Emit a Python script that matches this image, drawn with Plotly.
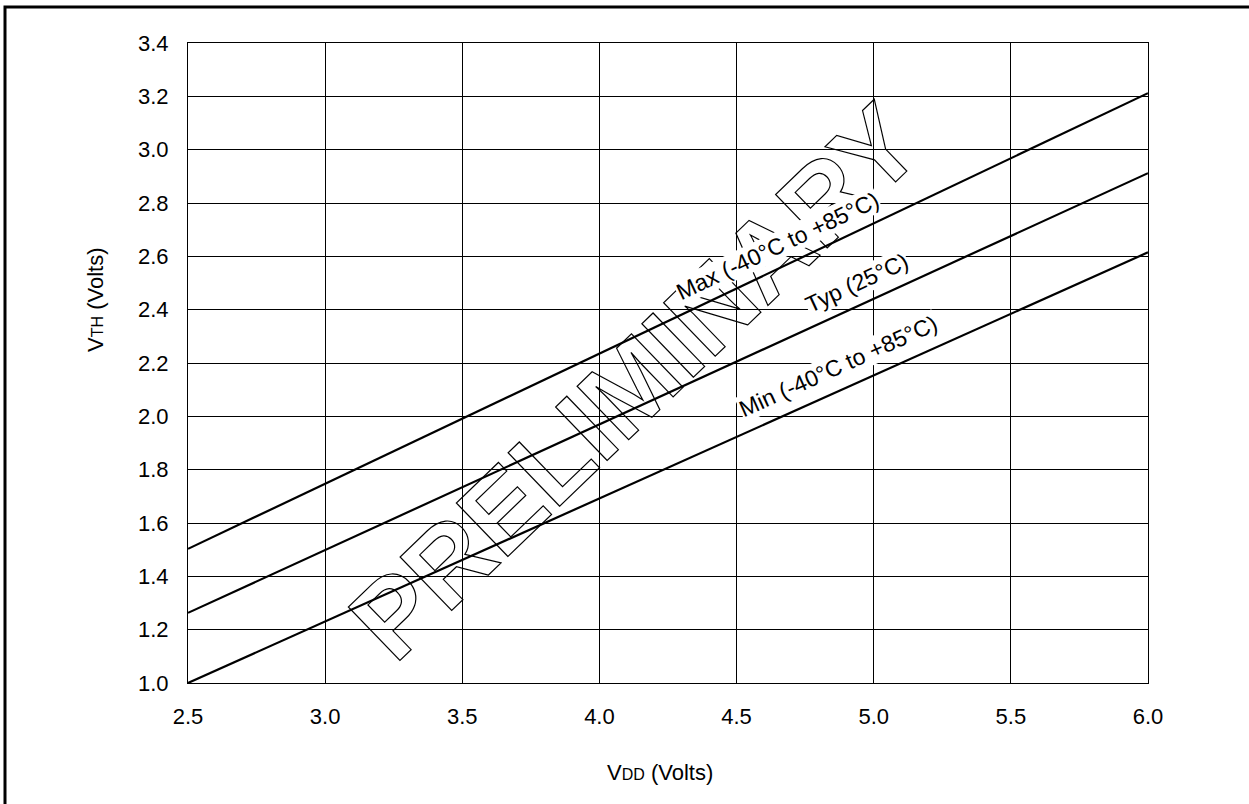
import plotly.graph_objects as go

# ---- data ----
vdd = [2.5, 6.0]
vth_max = [1.503, 3.212]
vth_typ = [1.263, 2.912]
vth_min = [1.0, 2.615]

x_ticks = [2.5, 3.0, 3.5, 4.0, 4.5, 5.0, 5.5, 6.0]
y_ticks = [1.0, 1.2, 1.4, 1.6, 1.8, 2.0, 2.2, 2.4, 2.6, 2.8, 3.0, 3.2, 3.4]

label_text = ["Max (-40°C to +85°C)", "Typ (25°C)", "Min (-40°C to +85°C)"]
label_x = [4.648, 4.938, 4.872]
label_y = [2.640, 2.499, 2.188]
label_angle = [-25.4, -24.8, -24.3]

FONT = "Liberation Sans, Arial, sans-serif"

fig = go.Figure()
for ys in (vth_max, vth_typ, vth_min):
    fig.add_trace(go.Scatter(x=vdd, y=ys, mode="lines",
                             line=dict(color="black", width=2.2),
                             showlegend=False, hoverinfo="skip"))

annotations = [
    dict(text="<b>PRELIMINARY</b>", x=4.13, y=2.13, xref="x", yref="y",
         showarrow=False, textangle=-44,
         font=dict(family=FONT, size=108, color="black")),
]
for t, x, y, a in zip(label_text, label_x, label_y, label_angle):
    annotations.append(dict(text=t, x=x, y=y, xref="x", yref="y",
                            showarrow=False, textangle=a, bgcolor="white",
                            borderpad=0,
                            font=dict(family=FONT, size=23, color="black")))
annotations.append(dict(text="V<span style='font-size:16px'>DD</span> (Volts)",
                        x=660, y=772, xref="paper", yref="paper",
                        xanchor="center", yanchor="middle",
                        showarrow=False,
                        font=dict(family=FONT, size=22, color="black")))
annotations.append(dict(text="V<span style='font-size:16px'>TH</span> (Volts)",
                        x=95, y=300, xref="paper", yref="paper",
                        xanchor="center", yanchor="middle",
                        showarrow=False, textangle=-90,
                        font=dict(family=FONT, size=22, color="black")))

# convert pixel positions of axis titles to paper coords
L, R, T, B = 188, 101, 43, 121
W, H = 1249, 804
pw, ph = W - L - R, H - T - B
for a in annotations[-2:]:
    a["x"] = (a["x"] - L) / pw
    a["y"] = 1 - (a["y"] - T) / ph

fig.update_layout(
    width=W, height=H,
    margin=dict(l=L, r=R, t=T, b=B),
    paper_bgcolor="white", plot_bgcolor="white",
    font=dict(family=FONT, size=22, color="black"),
    annotations=annotations,
    shapes=[dict(type="rect", xref="paper", yref="paper",
                 x0=(5 - L) / pw, x1=(1265 - L) / pw,
                 y0=1 - (820 - T) / ph, y1=1 - (7 - T) / ph,
                 line=dict(color="black", width=3), layer="above")],
)
fig.update_xaxes(range=[2.5, 6.0], tickvals=x_ticks,
                 ticktext=[f"{v:.1f}" for v in x_ticks],
                 showgrid=True, gridcolor="black", gridwidth=1,
                 showline=True, mirror=True, linecolor="black", linewidth=1,
                 zeroline=False, ticks="", ticklabelstandoff=14)
fig.update_yaxes(range=[1.0, 3.4], tickvals=y_ticks,
                 ticktext=[f"{v:.1f}" for v in y_ticks],
                 showgrid=True, gridcolor="black", gridwidth=1,
                 showline=True, mirror=True, linecolor="black", linewidth=1,
                 zeroline=False, ticks="", ticklabelstandoff=14)

post = """
document.body.style.margin = '0';
document.body.style.overflow = 'hidden';
var gd = document.getElementById('{plot_id}');
function outlineWM(){
  gd.querySelectorAll('text.annotation-text').forEach(function(t){
    if (t.textContent === 'PRELIMINARY') {
      t.style.fill = 'none';
      t.style.stroke = '#000';
      t.style.strokeWidth = '1.2px';
    }
  });
}
outlineWM();
gd.on('plotly_afterplot', outlineWM);
"""
fig.write_html("out.html", post_script=post, config={"displayModeBar": False})
